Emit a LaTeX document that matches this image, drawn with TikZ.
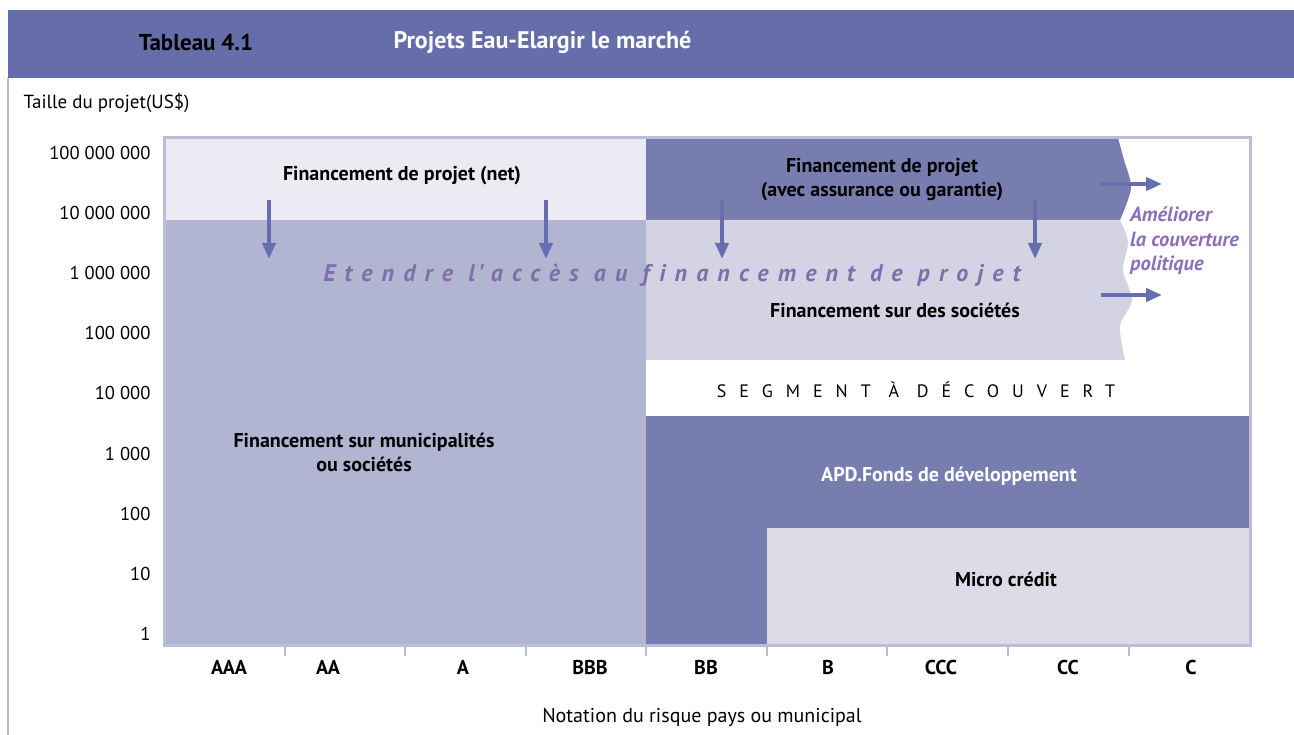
\documentclass[tikz,border=0pt]{standalone}
\usepackage{fontspec}
\setmainfont{PT Sans}
\usetikzlibrary{arrows.meta,positioning}
\definecolor{headerblue}{RGB}{102,110,170}
\definecolor{darkblue}{RGB}{120,125,175}
\definecolor{midblue}{RGB}{177,181,210}
\definecolor{paleblue}{RGB}{236,235,243}
\definecolor{greyblue}{RGB}{211,211,227}
\definecolor{microblue}{RGB}{220,220,232}
\definecolor{framecol}{RGB}{185,189,218}
\definecolor{arrowblue}{RGB}{102,110,176}
\definecolor{purpletext}{RGB}{128,110,170}
\definecolor{violettext}{RGB}{140,110,185}

\begin{document}
\begin{tikzpicture}[x=1pt, y=-1pt,
    lbl/.style={font=\bfseries\fontsize{20}{24}\selectfont, align=center},
    axislbl/.style={font=\fontsize{18.6}{22}\selectfont, anchor=east},
    ratelbl/.style={font=\bfseries\fontsize{20}{24}\selectfont},
    frame/.style={draw=framecol, line width=3pt},
    arr/.style={draw=arrowblue, line width=4pt, -{Triangle[length=16pt,width=13pt]}}]
    \useasboundingbox (0,0) rectangle (1294,735);
    % Header band
    \fill[headerblue] (8,10) rectangle (1294,78);
    \draw[framecol, line width=1.2pt] (8,78) -- (8,735);
    \node[font=\bfseries\fontsize{23}{26}\selectfont] (title) at (196,42) {Tableau 4.1};
    \node[font=\bfseries\fontsize{24}{27}\selectfont, text=white, anchor=west] (subtitle) at (390,42) {Projets Eau-Elargir le marché};
    \node[font=\fontsize{19}{23}\selectfont, anchor=west] (yunit) at (20,103) {Taille du projet(US\$)};

    % Chart areas
    \fill[paleblue] (164,138) rectangle (646,220);
    \fill[midblue] (164,220) rectangle (646,645);
    \fill[darkblue] (646,138) -- plot[smooth] coordinates {(1118,138) (1124,160) (1131,188) (1120,220)} -- (646,220) -- cycle;
    \fill[greyblue] (646,220) -- plot[smooth] coordinates {(1120,220) (1128,242) (1123,270) (1132,300) (1120,326) (1125,360)} -- (646,360) -- cycle;
    \fill[darkblue] (646,416) rectangle (1250,645);
    \fill[microblue] (767,528) rectangle (1250,645);
    \draw[frame] (164,138) rectangle (1250,645);
    \foreach \x in {285,405,526,646,767,887,1008,1129}
        \draw[framecol, line width=2pt] (\x,646) -- (\x,656);

    % Axis values
    \foreach \v [count=\i from 0] in {100 000 000,10 000 000,1 000 000,100 000,10 000,1 000,100,10,1}
        \node[axislbl] (val\i) at (154,153+60.1*\i) {\v};
    \foreach \r/\x in {AAA/229,AA/328,A/463,BBB/590,BB/706,B/828,CCC/941,CC/1068,C/1191}
        \node[ratelbl] (r\r) at (\x,667) {\r};
    \node[font=\fontsize{20}{24}\selectfont] (xlabel) at (702,717) {Notation du risque pays ou municipal};

    % Region labels
    \node[lbl] (netpf) at (402,176) {Financement de projet (net)};
    \node[lbl, inner sep=1pt] (guarpf) at (882,180) {Financement de projet\\(avec assurance ou garantie)};
    \node[lbl] (corp) at (895,310) {Financement sur des sociétés};
    \node[font=\fontsize{18}{22}\selectfont\addfontfeature{LetterSpace=72}] (segment) at (916,390) {SEGMENT À DÉCOUVERT};
    \node[lbl, inner sep=1pt] (muni) at (364,452) {Financement sur municipalités\\ou sociétés};
    \node[lbl, text=white] (apd) at (949,476) {APD.Fonds de développement};
    \node[lbl] (micro) at (1006,579) {Micro crédit};
    \node[font=\bfseries\itshape\fontsize{24}{28}\selectfont\addfontfeature{LetterSpace=38,Ligatures=CommonOff}, text=purpletext] (extend) at (672,275) {Etendre l\kern0.15em\textquotesingle\kern0.3em accès au financement de projet};
    \node[font=\bfseries\itshape\fontsize{20.5}{24.5}\selectfont, text=violettext, align=left, anchor=north west, inner sep=0pt] (improve) at (1130,207) {Améliorer\\la couverture\\politique};

    % Arrows
    \foreach \x [count=\i] in {269,546,722,1035} {
        \coordinate (dtop\i) at (\x,200);
        \coordinate (dbot\i) at (\x,259);
        \draw[arr] (dtop\i) -- (dbot\i);
    }
    \foreach \y [count=\i] in {184,295} {
        \coordinate (rs\i) at (1101,\y);
        \coordinate (re\i) at (1162,\y);
        \draw[arr] (rs\i) -- (re\i);
    }
\end{tikzpicture}
\end{document}
